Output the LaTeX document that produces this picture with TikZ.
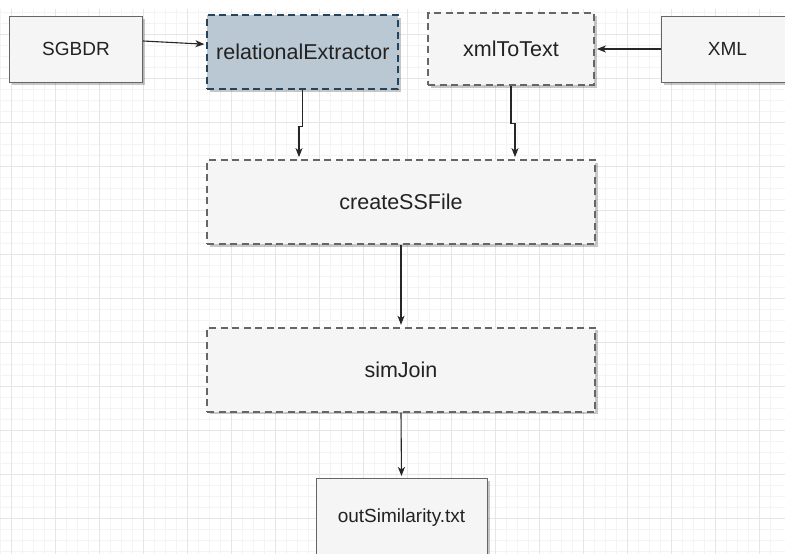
\documentclass[tikz,border=0pt]{standalone}
\usepackage{fontspec}
\setmainfont{Liberation Sans}
\usetikzlibrary{arrows.meta,shadows,calc}
\definecolor{boxfill}{HTML}{F5F5F5}
\definecolor{boxline}{HTML}{666666}
\definecolor{blfill}{HTML}{BAC8D3}
\definecolor{blline}{HTML}{23445D}
\definecolor{txt}{HTML}{222222}
\definecolor{gridminor}{HTML}{F4F4F4}
\definecolor{gridmajor}{HTML}{E6E6E6}
\begin{document}
\begin{tikzpicture}[x=1pt,y=-1pt,
  boxshadow/.style={drop shadow={shadow xshift=2.5pt, shadow yshift=-2.5pt, fill=black, opacity=0.22}},
  solidbox/.style={rectangle, draw=boxline, fill=boxfill, line width=1pt, text=txt,
    font=\fontsize{19}{22}\selectfont, inner sep=0pt, boxshadow},
  dashbox/.style={rectangle, draw=boxline, fill=boxfill, line width=1.8pt,
    dash pattern=on 7pt off 4.5pt, text=txt,
    font=\fontsize{21.5}{25}\selectfont, inner sep=0pt, boxshadow},
  link/.style={-{Stealth[length=9pt,width=7pt,inset=2.5pt]}, line width=1.1pt, black!85, shorten >=2pt},
]
\useasboundingbox (0,0) rectangle (785,554);
\clip (0,0) rectangle (785,554);
\fill[white] (0,0) rectangle (785,554);
% grid
\foreach \i in {0,...,70} {
  \draw[gridminor, line width=0.8pt] ({0.3+11*\i},9) -- ({0.3+11*\i},554);
}
\foreach \j in {0,...,49} {
  \draw[gridminor, line width=0.8pt] (0,{12.7+11*\j}) -- (785,{12.7+11*\j});
}
\foreach \i in {0,...,17} {
  \draw[gridmajor, line width=0.9pt] ({11.3+44*\i},9) -- ({11.3+44*\i},554);
}
\foreach \j in {0,...,12} {
  \draw[gridmajor, line width=0.9pt] (0,{34.7+44*\j}) -- (785,{34.7+44*\j});
}
% nodes
\node[solidbox, minimum width=133pt, minimum height=66pt] (sg) at (76,49) {SGBDR};
\node[dashbox, fill=blfill, draw=blline, minimum width=191pt, minimum height=74pt] (re) at (302.8,52.3) {relationalExtractor};
\node[dashbox, minimum width=166pt, minimum height=72pt] (xt) at (511,49) {xmlToText};
\node[solidbox, minimum width=133pt, minimum height=66pt] (xml) at (727.5,49) {XML};
\node[dashbox, minimum width=388pt, minimum height=84pt] (cs) at (401,202) {createSSFile};
\node[dashbox, minimum width=388pt, minimum height=84pt] (sj) at (401,369.7) {simJoin};
\node[solidbox, minimum width=171pt, minimum height=79pt] (out) at (401.5,518) {outSimilarity.txt};
% connectors
\draw[link] ([yshift=8pt]sg.east) -- ([yshift=8pt]re.west);
\draw[link] (xml.west) -- (xt.east);
\draw[link] (re.south) -- ++(0,36) -| ([xshift=-102pt]cs.north);
\draw[link] (xt.south) -- ++(0,38) -| ([xshift=114pt]cs.north);
\draw[link] (cs.south) -- (sj.north);
\draw[link] (sj.south) -- (out.north);
\end{tikzpicture}
\end{document}
